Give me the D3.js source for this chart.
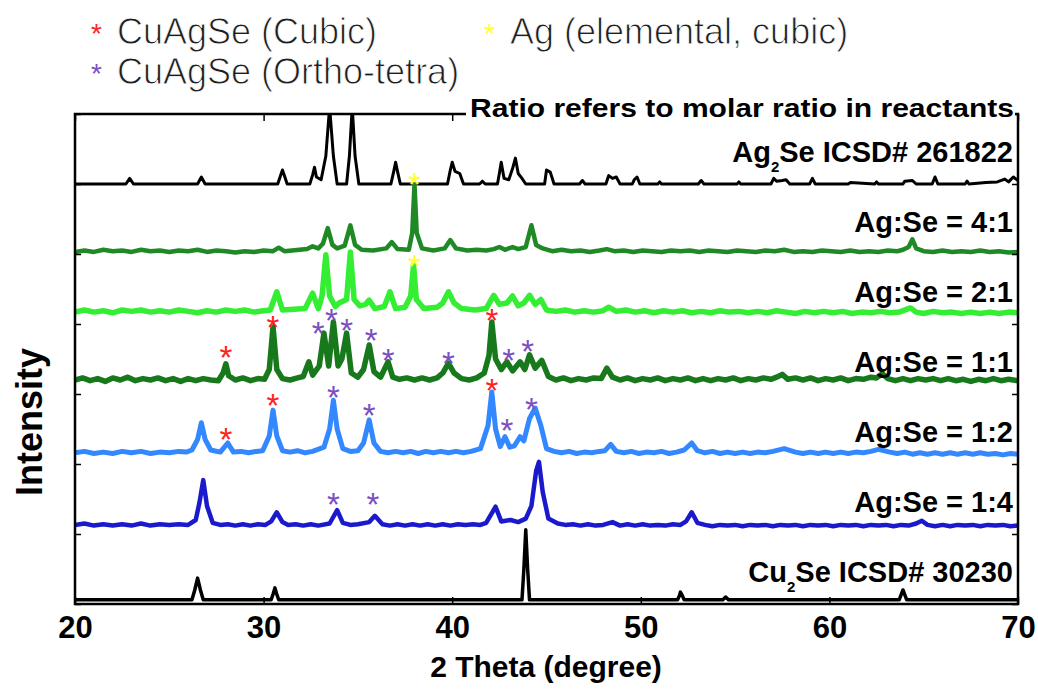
<!DOCTYPE html>
<html><head><meta charset="utf-8">
<script src="https://cdn.jsdelivr.net/npm/d3@7"></script>
<style>body{margin:0;background:#fff;} svg{display:block;}</style>
</head><body><svg id="c" width="1038" height="690"></svg>
<script>
// ---------- data ----------
const xTicks = [20, 30, 40, 50, 60, 70];
const yTicks = [0, 1, 2, 3, 4, 5, 6, 7];
const seriesLabels = ["Ag_2Se ICSD# 261822", "Ag:Se = 4:1", "Ag:Se = 2:1", "Ag:Se = 1:1", "Ag:Se = 1:2", "Ag:Se = 1:4", "Cu_2Se ICSD# 30230"];
const seriesOffsets = [6, 5, 4, 3, 2, 1, 0];
const seriesColors = ["#000000", "#1f8a25", "#33ee33", "#17791b", "#3388ff", "#1a1acc", "#000000"];
const seriesWidths = [3, 4.5, 5.5, 5.5, 5, 4.5, 3.5];

const ag2se = [[20,0],[22.7,0],[22.9,0.08],[23.1,0],[26.5,0],[26.7,0.1],[26.9,0],[30.75,0],[30.9,0.12],[31.0,0.2],[31.1,0.12],[31.25,0],[32.45,0],[32.6,0.13],[32.7,0.24],[32.8,0.1],[33.05,0.06],[33.3,0.4],[33.5,1.1],[33.7,0.4],[33.9,0],[34.4,0],[34.55,0.4],[34.7,1.1],[34.85,0.4],[35.05,0],[36.75,0],[36.9,0.18],[37.0,0.31],[37.1,0.18],[37.25,0],[39.75,0],[39.9,0.2],[40.0,0.31],[40.15,0.18],[40.4,0.15],[40.6,0],[41.45,0],[41.6,0.04],[41.75,0],[42.4,0],[42.5,0.15],[42.6,0.31],[42.75,0.08],[43.0,0.06],[43.2,0.22],[43.35,0.37],[43.5,0.15],[43.7,0.08],[43.9,0],[44.9,0],[45.0,0.2],[45.2,0.17],[45.4,0],[46.75,0],[46.9,0.05],[47.05,0],[48.15,0],[48.3,0.12],[48.5,0.08],[48.7,0.1],[48.9,0],[49.55,0],[49.65,0.06],[49.8,0.1],[49.95,0],[50.9,0],[51.0,0.03],[51.1,0],[53.05,0],[53.2,0.05],[53.35,0],[55.1,0],[55.2,0.03],[55.3,0],[56.9,0],[57.05,0.08],[57.2,0.04],[57.5,0.05],[57.7,0.06],[57.9,0],[58.95,0],[59.1,0.08],[59.25,0],[61.0,0],[61.1,0.02],[62.4,0],[62.5,0.03],[62.6,0],[63.9,0],[64.0,0.04],[64.4,0.05],[64.6,0],[65.45,0],[65.6,0.1],[65.75,0],[67.2,0],[67.3,0.04],[67.4,0],[68.3,0.02],[68.9,0.03],[69.3,0.07],[69.5,0.03],[69.75,0.1],[70,0.05]];

const r41 = [[20,0.03],[20.5,0.05],[21,0.03],[21.5,0.06],[22,0.04],[22.5,0.05],[23,0.03],[23.5,0.06],[24,0.04],[24.5,0.05],[25,0.03],[25.5,0.05],[26,0.04],[26.5,0.06],[27,0.03],[27.5,0.05],[28,0.04],[28.5,0.02],[29,0.04],[29.5,0.03],[30,0.05],[30.5,0.04],[30.8,0.09],[31.1,0.04],[31.5,0.05],[31.9,0.06],[32.3,0.07],[32.6,0.11],[32.9,0.08],[33.15,0.15],[33.4,0.37],[33.65,0.13],[33.9,0.08],[34.3,0.12],[34.6,0.41],[34.85,0.13],[35.2,0.06],[35.8,0.05],[36.5,0.08],[36.8,0.17],[37.1,0.07],[37.7,0.06],[37.88,0.3],[38.0,0.99],[38.12,0.3],[38.4,0.08],[39.0,0.05],[39.6,0.08],[39.9,0.2],[40.2,0.08],[40.8,0.05],[41.3,0.06],[41.8,0.05],[42.2,0.07],[42.5,0.1],[42.8,0.06],[43.2,0.1],[43.5,0.07],[43.9,0.1],[44.2,0.41],[44.45,0.13],[44.8,0.08],[45.3,0.04],[45.8,0.06],[46.3,0.04],[46.8,0.05],[47.3,0.03],[47.8,0.05],[48.2,0.07],[48.6,0.04],[49.1,0.05],[49.6,0.03],[50.1,0.05],[50.6,0.04],[51.1,0.03],[51.6,0.05],[52.1,0.04],[52.6,0.05],[53.1,0.03],[53.6,0.05],[54.1,0.04],[54.6,0.03],[55.1,0.05],[55.6,0.04],[56.1,0.03],[56.6,0.05],[57.1,0.04],[57.6,0.06],[58.1,0.03],[58.6,0.04],[59.1,0.03],[59.6,0.05],[60.1,0.04],[60.6,0.03],[61.1,0.05],[61.6,0.03],[62.1,0.04],[62.6,0.03],[63.1,0.05],[63.6,0.04],[63.9,0.06],[64.2,0.1],[64.4,0.21],[64.6,0.08],[65,0.04],[65.5,0.03],[66,0.05],[66.5,0.03],[67,0.04],[67.5,0.03],[68,0.05],[68.5,0.03],[69,0.04],[69.5,0.02],[70,0.03]];

const r21 = [[20,0.17],[20.5,0.2],[21,0.17],[21.5,0.19],[22,0.16],[22.5,0.2],[23,0.18],[23.5,0.2],[24,0.17],[24.5,0.19],[25,0.17],[25.5,0.2],[26,0.18],[26.5,0.16],[27,0.19],[27.5,0.17],[28,0.2],[28.5,0.18],[29,0.2],[29.5,0.17],[30,0.19],[30.35,0.2],[30.7,0.46],[31.0,0.2],[31.6,0.21],[32.2,0.22],[32.6,0.44],[32.9,0.22],[33.1,0.4],[33.3,0.99],[33.5,0.4],[33.8,0.25],[34.0,0.3],[34.4,0.35],[34.6,1.03],[34.8,0.35],[35.1,0.26],[35.4,0.28],[35.6,0.34],[35.9,0.22],[36.4,0.25],[36.7,0.46],[37.0,0.22],[37.5,0.24],[37.8,0.4],[37.95,0.84],[38.1,0.35],[38.5,0.22],[39.2,0.24],[39.5,0.3],[39.8,0.46],[40.1,0.3],[40.5,0.22],[41.2,0.2],[41.8,0.22],[42.2,0.41],[42.5,0.28],[42.9,0.3],[43.2,0.4],[43.5,0.26],[43.8,0.3],[44.1,0.41],[44.4,0.28],[44.7,0.35],[45.0,0.2],[45.5,0.18],[46,0.2],[46.5,0.17],[47,0.19],[47.5,0.17],[48.0,0.19],[48.3,0.24],[48.7,0.18],[49.2,0.2],[49.7,0.17],[50.2,0.19],[50.7,0.16],[51.2,0.19],[51.7,0.17],[52.2,0.19],[52.7,0.16],[53.2,0.18],[53.7,0.16],[54.2,0.19],[54.7,0.17],[55.2,0.18],[55.7,0.16],[56.2,0.18],[56.7,0.16],[57.2,0.19],[57.7,0.17],[58.2,0.15],[58.7,0.18],[59.2,0.16],[59.7,0.18],[60.2,0.16],[60.7,0.18],[61.2,0.15],[61.7,0.17],[62.2,0.16],[62.7,0.18],[63.2,0.16],[63.7,0.17],[64.3,0.23],[64.6,0.17],[65,0.15],[65.5,0.18],[66,0.16],[66.5,0.17],[67,0.15],[67.5,0.17],[68,0.15],[68.5,0.17],[69,0.15],[69.5,0.17],[70,0.16]];

const r11 = [[20,0.2],[20.4,0.23],[20.8,0.19],[21.2,0.22],[21.6,0.18],[22.0,0.23],[22.4,0.2],[22.8,0.24],[23.2,0.19],[23.6,0.22],[24.0,0.2],[24.4,0.23],[24.8,0.19],[25.2,0.22],[25.6,0.18],[26.0,0.22],[26.4,0.19],[26.8,0.22],[27.2,0.2],[27.6,0.19],[27.85,0.3],[28.0,0.43],[28.15,0.26],[28.5,0.2],[28.9,0.23],[29.3,0.19],[29.7,0.22],[30.05,0.21],[30.3,0.35],[30.5,0.96],[30.7,0.35],[31.0,0.22],[31.4,0.2],[31.8,0.23],[32.1,0.25],[32.4,0.46],[32.6,0.27],[32.95,0.4],[33.2,0.87],[33.45,0.4],[33.7,1.03],[33.95,0.4],[34.15,0.5],[34.4,0.87],[34.65,0.3],[35.0,0.24],[35.3,0.35],[35.6,0.7],[35.85,0.32],[36.2,0.24],[36.6,0.46],[36.85,0.24],[37.2,0.21],[37.6,0.23],[38.0,0.2],[38.4,0.23],[38.8,0.2],[39.2,0.23],[39.5,0.3],[39.8,0.44],[40.1,0.3],[40.5,0.22],[40.9,0.2],[41.3,0.23],[41.7,0.3],[41.95,0.55],[42.1,1.03],[42.3,0.5],[42.6,0.35],[42.9,0.46],[43.2,0.33],[43.6,0.46],[43.85,0.35],[44.1,0.56],[44.4,0.37],[44.75,0.48],[45.1,0.25],[45.5,0.2],[45.9,0.23],[46.3,0.19],[46.7,0.22],[47.1,0.2],[47.5,0.23],[47.9,0.22],[48.2,0.37],[48.5,0.24],[48.9,0.2],[49.3,0.23],[49.7,0.19],[50.1,0.22],[50.5,0.2],[50.9,0.23],[51.3,0.19],[51.7,0.22],[52.1,0.2],[52.5,0.23],[52.9,0.19],[53.3,0.22],[53.7,0.19],[54.1,0.22],[54.5,0.2],[54.9,0.23],[55.3,0.19],[55.7,0.22],[56.1,0.2],[56.5,0.23],[56.9,0.21],[57.2,0.24],[57.5,0.28],[57.8,0.21],[58.2,0.23],[58.6,0.2],[59.0,0.23],[59.4,0.19],[59.8,0.22],[60.2,0.2],[60.6,0.23],[61.0,0.19],[61.4,0.22],[61.8,0.21],[62.2,0.24],[62.5,0.23],[62.8,0.29],[63.1,0.22],[63.5,0.19],[63.9,0.22],[64.3,0.19],[64.7,0.22],[65.1,0.2],[65.5,0.22],[65.9,0.19],[66.3,0.22],[66.7,0.19],[67.1,0.21],[67.5,0.18],[67.9,0.21],[68.3,0.19],[68.7,0.22],[69.1,0.19],[69.5,0.21],[70,0.19]];

const r12 = [[20,0.16],[20.5,0.18],[21,0.15],[21.5,0.17],[22,0.15],[22.5,0.18],[23,0.16],[23.5,0.18],[24,0.15],[24.5,0.17],[25,0.16],[25.5,0.18],[25.9,0.17],[26.2,0.2],[26.5,0.35],[26.7,0.59],[26.9,0.35],[27.2,0.2],[27.7,0.17],[28.1,0.3],[28.4,0.17],[28.8,0.18],[29.2,0.16],[29.6,0.18],[29.95,0.19],[30.3,0.4],[30.5,0.77],[30.7,0.4],[31.0,0.19],[31.4,0.17],[31.8,0.19],[32.2,0.16],[32.6,0.18],[33.2,0.24],[33.5,0.5],[33.7,0.91],[33.9,0.5],[34.2,0.22],[34.6,0.18],[35.0,0.19],[35.3,0.3],[35.6,0.63],[35.85,0.3],[36.2,0.18],[36.6,0.16],[37,0.18],[37.4,0.16],[37.8,0.18],[38.2,0.15],[38.6,0.18],[39.0,0.16],[39.4,0.18],[39.8,0.16],[40.2,0.18],[40.6,0.16],[41,0.18],[41.5,0.22],[41.9,0.55],[42.1,1.03],[42.3,0.5],[42.55,0.25],[42.8,0.39],[43.05,0.24],[43.3,0.26],[43.6,0.39],[43.8,0.33],[44.1,0.65],[44.4,0.8],[44.7,0.55],[45.0,0.22],[45.4,0.18],[45.8,0.16],[46.2,0.18],[46.6,0.15],[47.0,0.17],[47.4,0.16],[47.8,0.18],[48.1,0.19],[48.4,0.28],[48.7,0.18],[49.1,0.16],[49.5,0.18],[49.9,0.15],[50.3,0.17],[50.7,0.16],[51.1,0.18],[51.5,0.15],[51.9,0.17],[52.3,0.2],[52.7,0.3],[53.0,0.19],[53.4,0.16],[53.8,0.18],[54.2,0.15],[54.6,0.17],[55.0,0.15],[55.4,0.17],[55.8,0.15],[56.2,0.17],[56.6,0.16],[57.0,0.18],[57.6,0.22],[58.2,0.17],[58.6,0.15],[59.0,0.17],[59.4,0.15],[59.8,0.17],[60.2,0.15],[60.6,0.17],[61.0,0.15],[61.4,0.17],[61.8,0.16],[62.2,0.18],[62.6,0.21],[63.2,0.17],[63.6,0.15],[64.0,0.17],[64.4,0.14],[64.8,0.16],[65.2,0.14],[65.6,0.16],[66.0,0.14],[66.4,0.16],[66.8,0.14],[67.2,0.16],[67.6,0.14],[68.0,0.16],[68.4,0.14],[68.8,0.15],[69.2,0.13],[69.6,0.15],[70,0.14]];

const r14 = [[20,0.13],[20.5,0.15],[21,0.12],[21.5,0.14],[22,0.12],[22.5,0.14],[23,0.12],[23.5,0.15],[24,0.12],[24.5,0.14],[25,0.13],[25.5,0.14],[26,0.13],[26.4,0.2],[26.6,0.45],[26.8,0.77],[27.0,0.4],[27.3,0.16],[27.7,0.13],[28.1,0.14],[28.5,0.12],[28.9,0.14],[29.3,0.12],[29.7,0.14],[30.1,0.13],[30.4,0.18],[30.7,0.31],[31.0,0.17],[31.3,0.13],[31.7,0.14],[32.1,0.12],[32.5,0.14],[32.9,0.12],[33.5,0.15],[33.9,0.34],[34.2,0.16],[34.6,0.13],[35.0,0.14],[35.6,0.17],[35.9,0.26],[36.3,0.14],[36.7,0.12],[37.1,0.14],[37.5,0.12],[37.9,0.14],[38.3,0.12],[38.7,0.14],[39.1,0.12],[39.5,0.14],[39.9,0.12],[40.3,0.14],[40.7,0.13],[41.1,0.14],[41.5,0.13],[41.8,0.16],[42.3,0.39],[42.6,0.18],[43.1,0.2],[43.5,0.17],[43.9,0.22],[44.2,0.4],[44.45,0.9],[44.6,1.03],[44.8,0.6],[45.1,0.22],[45.6,0.15],[46.0,0.13],[46.4,0.14],[46.8,0.12],[47.2,0.14],[47.6,0.12],[48.0,0.13],[48.5,0.17],[48.9,0.12],[49.3,0.14],[49.7,0.12],[50.1,0.14],[50.5,0.12],[50.9,0.13],[51.3,0.12],[51.7,0.14],[52.1,0.13],[52.4,0.18],[52.7,0.31],[53.0,0.16],[53.4,0.13],[53.8,0.11],[54.2,0.13],[54.6,0.12],[55.0,0.13],[55.4,0.11],[55.8,0.13],[56.2,0.12],[56.6,0.13],[57.0,0.11],[57.4,0.13],[57.8,0.12],[58.2,0.13],[58.6,0.11],[59.0,0.13],[59.4,0.12],[59.8,0.13],[60.2,0.11],[60.6,0.13],[61.0,0.12],[61.4,0.13],[61.8,0.11],[62.2,0.13],[62.6,0.12],[63.0,0.13],[63.4,0.11],[63.8,0.13],[64.2,0.12],[64.6,0.15],[64.9,0.19],[65.2,0.13],[65.6,0.11],[66.0,0.13],[66.4,0.11],[66.8,0.13],[67.2,0.12],[67.6,0.13],[68.0,0.11],[68.4,0.13],[68.8,0.12],[69.2,0.13],[69.6,0.11],[70,0.12]];

const cu2se = [[20,0.06],[26.2,0.06],[26.35,0.2],[26.5,0.37],[26.65,0.2],[26.8,0.06],[30.4,0.06],[30.5,0.14],[30.6,0.23],[30.7,0.14],[30.8,0.06],[43.7,0.06],[43.8,0.5],[43.9,1.06],[44.0,0.5],[44.1,0.06],[51.95,0.06],[52.05,0.12],[52.1,0.17],[52.2,0.12],[52.3,0.06],[54.35,0.06],[54.5,0.1],[54.65,0.06],[63.7,0.06],[63.8,0.13],[63.9,0.2],[64.0,0.13],[64.1,0.06],[70,0.06]];

const seriesData = [ag2se, r41, r21, r11, r12, r14, cu2se];

// peak markers: [2theta, position value, phase]
const markers = [
  [38.0, 6.1, "ag"], [38.0, 4.93, "ag"],
  [28.0, 3.63, "cubic"], [30.5, 4.06, "cubic"], [32.9, 3.97, "ortho"], [33.6, 4.16, "ortho"], [34.4, 4.01, "ortho"], [35.7, 3.87, "ortho"], [36.6, 3.59, "ortho"], [39.8, 3.54, "ortho"], [42.1, 4.16, "cubic"], [43.0, 3.59, "ortho"], [44.0, 3.71, "ortho"],
  [28.0, 2.46, "cubic"], [30.5, 2.94, "cubic"], [33.7, 3.06, "ortho"], [35.6, 2.8, "ortho"], [42.1, 3.16, "cubic"], [42.9, 2.59, "ortho"], [44.2, 2.89, "ortho"],
  [33.7, 1.53, "ortho"], [35.8, 1.53, "ortho"]
];
const phaseColors = {cubic: "#ff2222", ortho: "#7a4fc0", ag: "#ffff33"};
const legendItems = [
  {phase: "cubic", text: "CuAgSe (Cubic)", col: 0, row: 0},
  {phase: "ag", text: "Ag (elemental, cubic)", col: 1, row: 0},
  {phase: "ortho", text: "CuAgSe (Ortho-tetra)", col: 0, row: 1}
];
const noteText = "Ratio refers to molar ratio in reactants";
const xTitle = "2 Theta (degree)";
const yTitle = "Intensity";

// ---------- drawing ----------
const svg = d3.select("#c");
const M = {left: 75, right: 1018, top: 114, bottom: 604};
const x = d3.scaleLinear().domain([20, 70]).range([M.left, M.right]);
const y = d3.scaleLinear().domain([0, 7]).range([M.bottom, M.top]);
const boldFont = "'Liberation Sans', Arial, Helvetica, sans-serif";

svg.append("defs").append("clipPath").attr("id", "clip")
  .append("rect").attr("x", M.left).attr("y", M.top).attr("width", M.right - M.left).attr("height", M.bottom - M.top);

// traces
const line = d3.line().x(d => x(d[0])).y(d => y(d[1]));
const g = svg.append("g").attr("clip-path", "url(#clip)");
seriesData.forEach((data, i) => {
  const off = seriesOffsets[i];
  g.append("path")
    .datum(data.map(d => [d[0], d[1] + off]))
    .attr("d", line)
    .attr("fill", "none")
    .attr("stroke", seriesColors[i])
    .attr("stroke-width", seriesWidths[i])
    .attr("stroke-linejoin", "round")
    .attr("stroke-linecap", "round");
});

// frame + axes
svg.append("rect").attr("x", M.left).attr("y", M.top).attr("width", M.right - M.left).attr("height", M.bottom - M.top)
  .attr("fill", "none").attr("stroke", "#000").attr("stroke-width", 2.5);

const axB = svg.append("g").attr("transform", `translate(0,${M.bottom})`)
  .call(d3.axisBottom(x).tickValues(xTicks).tickSizeInner(-7).tickSizeOuter(0).tickPadding(0).tickFormat(d3.format("d")));
const axT = svg.append("g").attr("transform", `translate(0,${M.top})`)
  .call(d3.axisTop(x).tickValues(xTicks).tickSizeInner(-7).tickSizeOuter(0).tickFormat(""));
const axL = svg.append("g").attr("transform", `translate(${M.left},0)`)
  .call(d3.axisLeft(y).tickValues(yTicks).tickSizeInner(-6).tickSizeOuter(0).tickFormat(""));
const axR = svg.append("g").attr("transform", `translate(${M.right},0)`)
  .call(d3.axisRight(y).tickValues(yTicks).tickSizeInner(-6).tickSizeOuter(0).tickFormat(""));
[axB, axT, axL, axR].forEach(a => {
  a.select(".domain").remove();
  a.selectAll(".tick line").attr("stroke", "#000").attr("stroke-width", 1.5);
});
axB.selectAll(".tick text")
  .attr("y", 34).attr("dy", 0)
  .attr("font-family", boldFont).attr("font-weight", "bold").attr("font-size", 31).attr("fill", "#000");

// note above frame (white backing hides the top border)
svg.append("rect").attr("x", 466).attr("y", 96).attr("width", 549).attr("height", 26).attr("fill", "#fff");
svg.append("text").attr("x", 470).attr("y", 117)
  .attr("textLength", 544).attr("lengthAdjust", "spacingAndGlyphs")
  .attr("font-family", boldFont).attr("font-weight", "bold").attr("font-size", 26).attr("fill", "#000")
  .text(noteText);

// series labels
seriesLabels.forEach((lab, i) => {
  const t = svg.append("text").attr("x", 1013).attr("y", y(seriesOffsets[i] + 0.31))
    .attr("text-anchor", "end").attr("font-family", boldFont).attr("font-weight", "bold")
    .attr("font-size", 29).attr("fill", "#000");
  const parts = lab.split("_");
  if (parts.length === 1) { t.text(lab); }
  else {
    t.append("tspan").text(parts[0]);
    t.append("tspan").attr("font-size", 15).attr("dy", 10).text(parts[1].charAt(0));
    t.append("tspan").attr("dy", -10).text(parts[1].slice(1));
  }
});

// peak markers
svg.append("g").selectAll("text").data(markers).join("text")
  .attr("x", d => x(d[0])).attr("y", d => y(d[1]) + 19)
  .attr("text-anchor", "middle").attr("font-family", boldFont).attr("font-size", 33)
  .attr("fill", d => phaseColors[d[2]]).text("*");

// legend (Helvetica-metric font, thinned with a white outline to look light)
const lg = svg.append("g");
legendItems.forEach(it => {
  const lx = it.col === 0 ? 91 : 484;
  const ly = it.row === 0 ? 43.5 : 84;
  lg.append("text").attr("x", lx).attr("y", ly - 1).attr("font-family", boldFont).attr("font-size", 28)
    .attr("fill", phaseColors[it.phase]).text("*");
  lg.append("text").attr("x", lx + 26).attr("y", ly)
    .attr("font-family", boldFont).attr("font-size", 36)
    .attr("fill", "#1e1e1e").attr("stroke", "#fff").attr("stroke-width", 0.9)
    .text(it.text);
});

// axis titles
svg.append("text").attr("x", 546).attr("y", 677).attr("text-anchor", "middle")
  .attr("font-family", boldFont).attr("font-weight", "bold").attr("font-size", 30).attr("fill", "#000").text(xTitle);
svg.append("text").attr("transform", "translate(42,422) rotate(-90)").attr("text-anchor", "middle")
  .attr("font-family", boldFont).attr("font-weight", "bold").attr("font-size", 36).attr("fill", "#000").text(yTitle);
</script></body></html>
